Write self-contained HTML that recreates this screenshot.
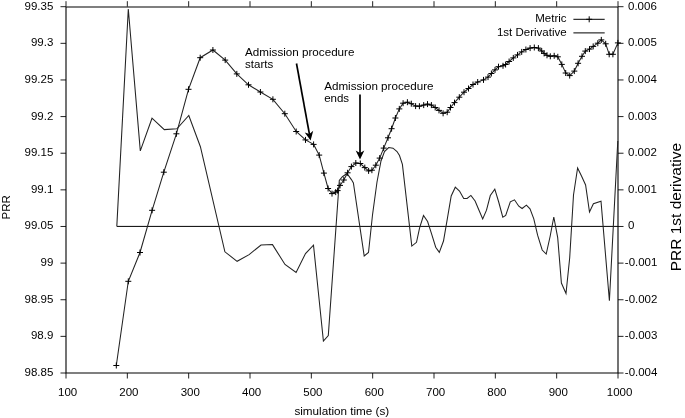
<!DOCTYPE html><html><head><meta charset="utf-8"><style>html,body{margin:0;padding:0;background:#fff;}svg{display:block;filter:grayscale(1) blur(0.35px);}</style></head><body>
<svg width="685" height="418" viewBox="0 0 685 418" font-family='"Liberation Sans", sans-serif' font-size="11.5" fill="#000">
<rect width="685" height="418" fill="#fff"/>
<path d="M66.00,373.00V378.50M66.00,6.70V1.20M127.33,373.00V378.50M127.33,6.70V1.20M188.67,373.00V378.50M188.67,6.70V1.20M250.00,373.00V378.50M250.00,6.70V1.20M311.33,373.00V378.50M311.33,6.70V1.20M372.67,373.00V378.50M372.67,6.70V1.20M434.00,373.00V378.50M434.00,6.70V1.20M495.33,373.00V378.50M495.33,6.70V1.20M556.67,373.00V378.50M556.67,6.70V1.20M618.00,373.00V378.50M618.00,6.70V1.20M66.00,6.70H60.50M618.00,6.70H623.50M66.00,43.33H60.50M618.00,43.33H623.50M66.00,79.96H60.50M618.00,79.96H623.50M66.00,116.59H60.50M618.00,116.59H623.50M66.00,153.22H60.50M618.00,153.22H623.50M66.00,189.85H60.50M618.00,189.85H623.50M66.00,226.48H60.50M618.00,226.48H623.50M66.00,263.11H60.50M618.00,263.11H623.50M66.00,299.74H60.50M618.00,299.74H623.50M66.00,336.37H60.50M618.00,336.37H623.50M66.00,373.00H60.50M618.00,373.00H623.50" stroke="#222" stroke-width="1" fill="none"/>
<path d="M65.5,7H618.5M65.5,373.0H618.5M66.0,6.5V373.5M618.0,6.5V373.5" fill="none" stroke="#000" stroke-width="1.1"/>
<text x="53.3" y="9.70" text-anchor="end">99.35</text>
<text x="628.0" y="9.70">0.006</text>
<text x="53.3" y="46.33" text-anchor="end">99.3</text>
<text x="628.0" y="46.33">0.005</text>
<text x="53.3" y="82.96" text-anchor="end">99.25</text>
<text x="628.0" y="82.96">0.004</text>
<text x="53.3" y="119.59" text-anchor="end">99.2</text>
<text x="628.0" y="119.59">0.003</text>
<text x="53.3" y="156.22" text-anchor="end">99.15</text>
<text x="628.0" y="156.22">0.002</text>
<text x="53.3" y="192.85" text-anchor="end">99.1</text>
<text x="628.0" y="192.85">0.001</text>
<text x="53.3" y="229.48" text-anchor="end">99.05</text>
<text x="628.0" y="229.48">0</text>
<text x="53.3" y="266.11" text-anchor="end">99</text>
<text x="624.8" y="266.11">-0.001</text>
<text x="53.3" y="302.74" text-anchor="end">98.95</text>
<text x="624.8" y="302.74">-0.002</text>
<text x="53.3" y="339.37" text-anchor="end">98.9</text>
<text x="624.8" y="339.37">-0.003</text>
<text x="53.3" y="376.00" text-anchor="end">98.85</text>
<text x="624.8" y="376.00">-0.004</text>
<text x="67.60" y="395.7" text-anchor="middle">100</text>
<text x="128.93" y="395.7" text-anchor="middle">200</text>
<text x="190.27" y="395.7" text-anchor="middle">300</text>
<text x="251.60" y="395.7" text-anchor="middle">400</text>
<text x="312.93" y="395.7" text-anchor="middle">500</text>
<text x="374.27" y="395.7" text-anchor="middle">600</text>
<text x="435.60" y="395.7" text-anchor="middle">700</text>
<text x="496.93" y="395.7" text-anchor="middle">800</text>
<text x="558.27" y="395.7" text-anchor="middle">900</text>
<text x="619.60" y="395.7" text-anchor="middle">1000</text>
<text x="341.8" y="415.4" text-anchor="middle" font-size="11.7">simulation time (s)</text>
<text transform="translate(10.3,207.3) rotate(-90)" text-anchor="middle">PRR</text>
<text transform="translate(681.3,207.15) rotate(-90)" text-anchor="middle" font-size="15.5">PRR 1st derivative</text>
<path d="M116.8,226.4H618.0" stroke="#000" stroke-width="1" fill="none"/>
<path d="M116.8,226.4 L128.3,9.0 L140.3,150.9 L152.0,118.2 L164.3,129.6 L176.9,128.8 L188.8,115.5 L200.4,146.7 L224.9,251.8 L237.1,261.3 L249.1,254.6 L261.0,245.0 L272.5,244.6 L285.0,264.5 L296.1,272.4 L305.5,253.6 L313.5,245.2 L323.4,341.0 L328.3,335.5 L339.3,180.5 L342.4,176.7 L347.0,173.5 L351.4,179.6 L353.4,183.0 L364.2,256.0 L368.5,252.5 L372.5,215.0 L377.0,182.0 L381.0,161.0 L384.5,151.5 L388.7,147.5 L393.0,148.2 L397.0,151.5 L399.5,155.5 L402.4,164.4 L411.8,246.1 L416.5,242.3 L419.6,227.9 L423.5,215.5 L427.6,221.5 L431.5,233.6 L435.7,247.2 L439.3,252.4 L443.5,241.0 L447.4,218.3 L451.2,196.0 L455.3,187.2 L459.5,191.0 L463.7,198.4 L467.1,198.4 L470.9,195.4 L475.1,201.0 L479.0,210.2 L482.7,219.0 L486.5,210.2 L490.3,195.5 L494.8,189.2 L498.7,202.0 L502.8,217.2 L505.7,215.5 L510.3,201.8 L514.5,199.8 L518.8,206.2 L522.1,208.5 L526.4,205.1 L530.0,208.8 L533.8,218.9 L537.6,235.2 L542.2,250.0 L546.2,254.0 L550.1,236.5 L553.8,217.0 L557.7,237.6 L561.4,283.0 L566.0,293.5 L569.7,257.8 L573.5,195.0 L577.6,168.0 L581.5,176.0 L585.6,185.0 L589.5,212.0 L593.4,203.8 L601.0,201.3 L609.4,300.8 L617.8,141.0" stroke="#222" stroke-width="1.05" fill="none" stroke-linejoin="miter"/>
<path d="M116.3,365.5 L128.3,281.3 L140.0,252.5 L152.1,210.3 L163.8,172.2 L176.4,133.8 L188.5,89.3 L200.2,57.7 L212.9,50.0 L225.2,60.1 L236.8,73.9 L248.5,84.8 L260.4,92.0 L272.9,99.3 L284.8,113.7 L296.2,131.5 L305.5,139.9 L313.6,144.4 L319.2,155.1 L323.9,173.1 L328.1,188.5 L332.0,193.6 L335.7,192.1 L337.6,190.6 L340.0,185.4 L343.8,180.0 L347.6,172.8 L351.4,166.6 L355.8,163.0 L360.3,163.5 L364.8,167.6 L368.6,170.9 L371.9,170.2 L375.8,165.2 L379.7,158.1 L383.7,148.1 L388.0,137.8 L391.6,128.7 L395.4,118.0 L399.3,108.9 L403.1,103.2 L407.4,102.2 L411.3,103.7 L415.6,106.1 L419.4,106.2 L423.7,105.1 L427.5,104.1 L431.4,105.1 L435.2,107.5 L439.0,110.4 L443.1,113.3 L447.2,112.2 L450.5,107.5 L454.5,102.6 L459.3,97.2 L464.0,92.2 L468.5,88.5 L473.0,84.5 L477.7,82.0 L483.5,79.9 L488.0,77.1 L491.4,73.5 L495.0,69.9 L498.5,66.7 L503.0,65.8 L505.6,64.5 L509.1,61.5 L513.3,57.9 L517.5,54.9 L521.7,51.9 L525.9,49.5 L530.1,48.1 L534.3,47.5 L538.4,48.1 L541.7,51.0 L544.1,53.4 L547.0,55.3 L550.3,56.3 L554.2,55.8 L557.8,56.8 L561.8,64.4 L565.7,73.0 L569.7,75.6 L574.3,71.1 L578.1,63.3 L582.0,56.3 L585.3,51.1 L589.5,49.1 L593.2,46.4 L597.8,43.2 L601.3,39.9 L605.7,43.8 L609.2,54.3 L612.9,54.3 L617.9,42.9" stroke="#222" stroke-width="1.05" fill="none"/>
<path d="M113.3,365.5h6.0M116.3,362.5v6.0M125.3,281.3h6.0M128.3,278.3v6.0M137.0,252.5h6.0M140.0,249.5v6.0M149.1,210.3h6.0M152.1,207.3v6.0M160.8,172.2h6.0M163.8,169.2v6.0M173.4,133.8h6.0M176.4,130.8v6.0M185.5,89.3h6.0M188.5,86.3v6.0M197.2,57.7h6.0M200.2,54.7v6.0M209.9,50.0h6.0M212.9,47.0v6.0M222.2,60.1h6.0M225.2,57.1v6.0M233.8,73.9h6.0M236.8,70.9v6.0M245.5,84.8h6.0M248.5,81.8v6.0M257.4,92.0h6.0M260.4,89.0v6.0M269.9,99.3h6.0M272.9,96.3v6.0M281.8,113.7h6.0M284.8,110.7v6.0M293.2,131.5h6.0M296.2,128.5v6.0M302.5,139.9h6.0M305.5,136.9v6.0M310.6,144.4h6.0M313.6,141.4v6.0M316.2,155.1h6.0M319.2,152.1v6.0M320.9,173.1h6.0M323.9,170.1v6.0M325.1,188.5h6.0M328.1,185.5v6.0M329.0,193.6h6.0M332.0,190.6v6.0M332.7,192.1h6.0M335.7,189.1v6.0M334.6,190.6h6.0M337.6,187.6v6.0M337.0,185.4h6.0M340.0,182.4v6.0M340.8,180.0h6.0M343.8,177.0v6.0M344.6,172.8h6.0M347.6,169.8v6.0M348.4,166.6h6.0M351.4,163.6v6.0M352.8,163.0h6.0M355.8,160.0v6.0M357.3,163.5h6.0M360.3,160.5v6.0M361.8,167.6h6.0M364.8,164.6v6.0M365.6,170.9h6.0M368.6,167.9v6.0M368.9,170.2h6.0M371.9,167.2v6.0M372.8,165.2h6.0M375.8,162.2v6.0M376.7,158.1h6.0M379.7,155.1v6.0M380.7,148.1h6.0M383.7,145.1v6.0M385.0,137.8h6.0M388.0,134.8v6.0M388.6,128.7h6.0M391.6,125.7v6.0M392.4,118.0h6.0M395.4,115.0v6.0M396.3,108.9h6.0M399.3,105.9v6.0M400.1,103.2h6.0M403.1,100.2v6.0M404.4,102.2h6.0M407.4,99.2v6.0M408.3,103.7h6.0M411.3,100.7v6.0M412.6,106.1h6.0M415.6,103.1v6.0M416.4,106.2h6.0M419.4,103.2v6.0M420.7,105.1h6.0M423.7,102.1v6.0M424.5,104.1h6.0M427.5,101.1v6.0M428.4,105.1h6.0M431.4,102.1v6.0M432.2,107.5h6.0M435.2,104.5v6.0M436.0,110.4h6.0M439.0,107.4v6.0M440.1,113.3h6.0M443.1,110.3v6.0M444.2,112.2h6.0M447.2,109.2v6.0M447.5,107.5h6.0M450.5,104.5v6.0M451.5,102.6h6.0M454.5,99.6v6.0M456.3,97.2h6.0M459.3,94.2v6.0M461.0,92.2h6.0M464.0,89.2v6.0M465.5,88.5h6.0M468.5,85.5v6.0M470.0,84.5h6.0M473.0,81.5v6.0M474.7,82.0h6.0M477.7,79.0v6.0M480.5,79.9h6.0M483.5,76.9v6.0M485.0,77.1h6.0M488.0,74.1v6.0M488.4,73.5h6.0M491.4,70.5v6.0M492.0,69.9h6.0M495.0,66.9v6.0M495.5,66.7h6.0M498.5,63.7v6.0M500.0,65.8h6.0M503.0,62.8v6.0M502.6,64.5h6.0M505.6,61.5v6.0M506.1,61.5h6.0M509.1,58.5v6.0M510.3,57.9h6.0M513.3,54.9v6.0M514.5,54.9h6.0M517.5,51.9v6.0M518.7,51.9h6.0M521.7,48.9v6.0M522.9,49.5h6.0M525.9,46.5v6.0M527.1,48.1h6.0M530.1,45.1v6.0M531.3,47.5h6.0M534.3,44.5v6.0M535.4,48.1h6.0M538.4,45.1v6.0M538.7,51.0h6.0M541.7,48.0v6.0M541.1,53.4h6.0M544.1,50.4v6.0M544.0,55.3h6.0M547.0,52.3v6.0M547.3,56.3h6.0M550.3,53.3v6.0M551.2,55.8h6.0M554.2,52.8v6.0M554.8,56.8h6.0M557.8,53.8v6.0M558.8,64.4h6.0M561.8,61.4v6.0M562.7,73.0h6.0M565.7,70.0v6.0M566.7,75.6h6.0M569.7,72.6v6.0M571.3,71.1h6.0M574.3,68.1v6.0M575.1,63.3h6.0M578.1,60.3v6.0M579.0,56.3h6.0M582.0,53.3v6.0M582.3,51.1h6.0M585.3,48.1v6.0M586.5,49.1h6.0M589.5,46.1v6.0M590.2,46.4h6.0M593.2,43.4v6.0M594.8,43.2h6.0M597.8,40.2v6.0M598.3,39.9h6.0M601.3,36.9v6.0M602.7,43.8h6.0M605.7,40.8v6.0M606.2,54.3h6.0M609.2,51.3v6.0M609.9,54.3h6.0M612.9,51.3v6.0M614.9,42.9h6.0M617.9,39.9v6.0" stroke="#000" stroke-width="1" fill="none"/>
<text x="566.6" y="22.4" text-anchor="end">Metric</text>
<text x="566.6" y="35.9" text-anchor="end">1st Derivative</text>
<path d="M573.4,19.3H604.7M573.4,32.9H604.7" stroke="#000" stroke-width="1" fill="none"/>
<path d="M586.2,19.3h6.0M589.2,16.3v6.0" stroke="#000" stroke-width="1" fill="none"/>
<text x="245.1" y="56.2" font-size="11.65">Admission procedure</text>
<text x="245.1" y="67.8">starts</text>
<text x="324.2" y="90.3" font-size="11.65">Admission procedure</text>
<text x="324.2" y="102.1">ends</text>
<path d="M296.50,63.50L309.43,134.11" stroke="#000" stroke-width="1.7" fill="none"/><path d="M310.60,140.50L304.75,132.42L309.43,134.11L313.21,130.87Z" fill="#000"/>
<path d="M360.00,94.60L360.00,153.00" stroke="#000" stroke-width="1.7" fill="none"/><path d="M360.00,159.50L355.70,150.50L360.00,153.00L364.30,150.50Z" fill="#000"/>
</svg></body></html>
